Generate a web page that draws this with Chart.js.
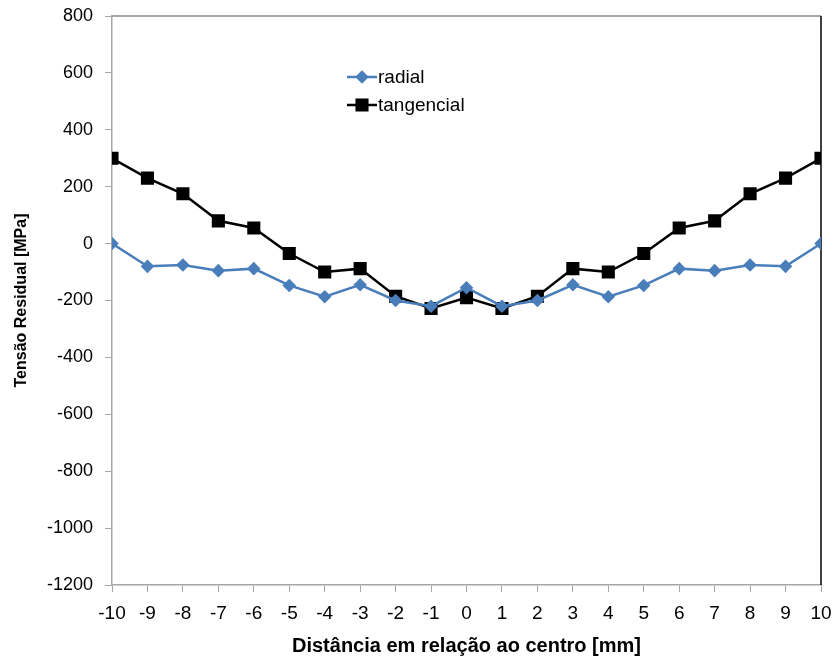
<!DOCTYPE html>
<html>
<head>
<meta charset="utf-8">
<script src="https://cdn.jsdelivr.net/npm/chart.js@4/dist/chart.umd.min.js"></script>
<style>
  html, body { margin: 0; padding: 0; background: #fff; }
  #wrap { width: 833px; height: 661px; }
</style>
</head>
<body>
<div id="wrap"><canvas id="c" width="833" height="661"></canvas></div>
<script>
// Position along the specimen, mm from the centre
const distance = [-10, -9, -8, -7, -6, -5, -4, -3, -2, -1, 0, 1, 2, 3, 4, 5, 6, 7, 8, 9, 10];
// Residual stress, MPa
const radial = [0, -80, -75, -95, -88, -147, -187, -145, -200, -220, -155, -220, -200, -145, -187, -147, -88, -95, -75, -80, 0];
const tangencial = [300, 230, 175, 80, 55, -35, -100, -88, -185, -228, -190, -228, -185, -88, -100, -35, 55, 80, 175, 230, 300];
const seriesNames = ['radial', 'tangencial'];
const yTicks = [-1200, -1000, -800, -600, -400, -200, 0, 200, 400, 600, 800];

const FONT = "'Liberation Sans', Arial, sans-serif";

const toPoints = vals => distance.map((x, i) => ({ x: x, y: vals[i] }));

// Frame on the top (grey) and right (black) of the plot area, plus the in-plot legend
const framePlugin = {
  id: 'frame',
  beforeDatasetsDraw(chart) {
    const { ctx, chartArea: a } = chart;
    ctx.save();
    ctx.lineWidth = 1.5;
    ctx.strokeStyle = '#8a8a8a';
    ctx.beginPath();
    ctx.moveTo(a.left, a.top);
    ctx.lineTo(a.right, a.top);
    ctx.stroke();
    ctx.strokeStyle = '#000';
    ctx.beginPath();
    ctx.moveTo(a.right, a.top);
    ctx.lineTo(a.right, a.bottom);
    ctx.stroke();
    ctx.restore();
  },
  afterDraw(chart) {
    const { ctx } = chart;
    const x0 = 347, lineLen = 30, rowY = [77, 105];
    ctx.save();
    chart.data.datasets.forEach((ds, i) => {
      const y = rowY[i];
      ctx.strokeStyle = ds.borderColor;
      ctx.lineWidth = ds.borderWidth;
      ctx.beginPath();
      ctx.moveTo(x0, y);
      ctx.lineTo(x0 + lineLen, y);
      ctx.stroke();
      ctx.fillStyle = ds.pointBackgroundColor;
      ctx.strokeStyle = ds.pointBorderColor;
      Chart.helpers.drawPoint(ctx, {
        pointStyle: ds.pointStyle,
        radius: ds.pointRadius,
        rotation: 0,
        borderWidth: 1
      }, x0 + lineLen / 2, y);
      ctx.fillStyle = '#000';
      ctx.font = '19px ' + FONT;
      ctx.textBaseline = 'middle';
      ctx.textAlign = 'left';
      ctx.fillText(ds.label, x0 + lineLen + 1, y + 1);
    });
    ctx.restore();
  }
};

new Chart(document.getElementById('c'), {
  type: 'line',
  data: {
    datasets: [
      {
        label: seriesNames[0],
        data: toPoints(radial),
        borderColor: '#4a7ebb',
        backgroundColor: '#4a7ebb',
        pointBackgroundColor: '#4a7ebb',
        pointBorderColor: '#4a7ebb',
        borderWidth: 2.5,
        pointStyle: 'rectRot',
        pointRadius: 5,
        tension: 0
      },
      {
        label: seriesNames[1],
        data: toPoints(tangencial),
        borderColor: '#000000',
        backgroundColor: '#000000',
        pointBackgroundColor: '#000000',
        pointBorderColor: '#000000',
        borderWidth: 2.5,
        pointStyle: 'rect',
        pointRadius: 7.5,
        tension: 0
      }
    ]
  },
  options: {
    responsive: false,
    animation: false,
    layout: { padding: { top: 16, right: 12, left: 0, bottom: 0 } },
    plugins: {
      legend: { display: false },
      tooltip: { enabled: false }
    },
    scales: {
      x: {
        type: 'linear',
        min: -10,
        max: 10,
        afterFit(scale) {
          scale.height = 76;
          scale.paddingLeft = 0;
          scale.paddingRight = 0;
        },
        afterBuildTicks(scale) { scale.ticks = distance.map(v => ({ value: v })); },
        ticks: {
          color: '#000',
          font: { family: FONT, size: 19 },
          padding: 10,
          maxRotation: 0,
          autoSkip: false,
          callback: v => String(v)
        },
        grid: { drawOnChartArea: false, drawTicks: true, tickLength: 7, color: '#a6a6a6', lineWidth: 1 },
        border: { display: true, color: '#a6a6a6', width: 1.5 },
        title: {
          display: true,
          text: 'Distância em relação ao centro [mm]',
          color: '#000',
          font: { family: FONT, size: 20, weight: 'bold' },
          padding: { top: 0, bottom: 3 }
        }
      },
      y: {
        type: 'linear',
        min: -1200,
        max: 800,
        afterFit(scale) {
          scale.width = 112;
          scale.paddingTop = 0;
          scale.paddingBottom = 0;
        },
        afterBuildTicks(scale) { scale.ticks = yTicks.map(v => ({ value: v })); },
        ticks: {
          color: '#000',
          font: { family: FONT, size: 18 },
          padding: 12,
          callback: v => String(v)
        },
        grid: { drawOnChartArea: false, drawTicks: true, tickLength: 7, color: '#a6a6a6', lineWidth: 1 },
        border: { display: true, color: '#a6a6a6', width: 1.5 },
        title: {
          display: true,
          text: 'Tensão Residual [MPa]',
          color: '#000',
          font: { family: FONT, size: 16, weight: 'bold' },
          padding: { top: 12, bottom: 0 }
        }
      }
    }
  },
  plugins: [framePlugin]
});
</script>
</body>
</html>
